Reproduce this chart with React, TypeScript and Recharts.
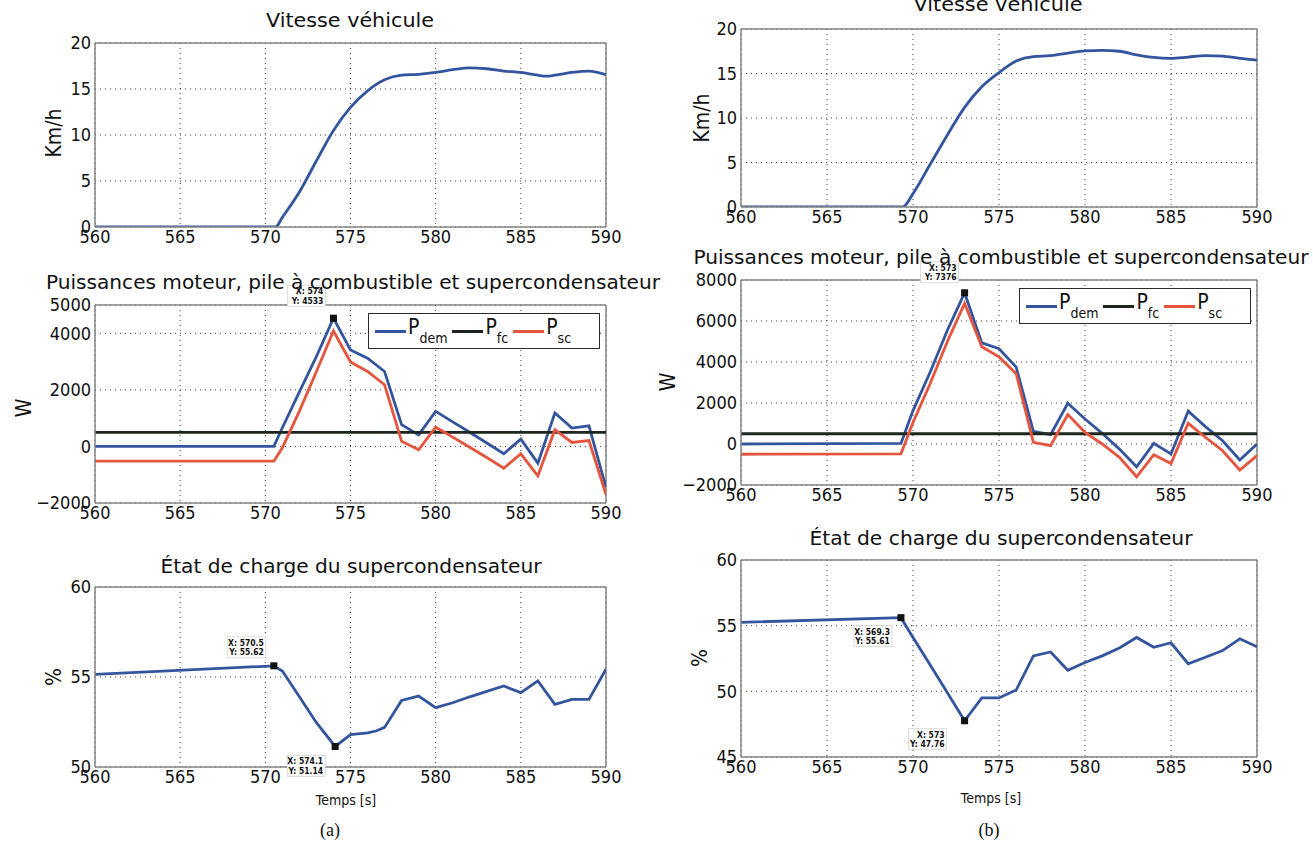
import React from "react";
import {
  CartesianGrid,
  Line,
  LineChart,
  ReferenceDot,
  ReferenceLine,
  XAxis,
  YAxis,
} from "recharts";

const FONT =
  '"DejaVu Sans Condensed", "Liberation Sans Narrow", "DejaVu Sans", sans-serif';
const BLUE = "#34559e";
const RED = "#e5543d";
const BLACK = "#1d261d";
const FRAME = "#858585";

const X_TICKS = [560, 565, 570, 575, 580, 585, 590];

// --- (a) vitesse ---
const A_SPEED_T = [560, 570.6, 571, 572, 573, 574, 575, 576, 577, 578, 579, 580, 581, 582, 583, 584, 585, 586, 586.5, 587, 588, 589, 590];
const A_SPEED = [0, 0, 1.05, 3.8, 7.2, 10.5, 13.0, 14.8, 16.0, 16.5, 16.6, 16.8, 17.1, 17.3, 17.2, 16.95, 16.8, 16.5, 16.4, 16.5, 16.8, 16.95, 16.55];

// --- (a) puissances ---
const A_POW_T = [560, 570.5, 571, 572, 573, 574, 575, 576, 577, 578, 579, 580, 581, 582, 583, 584, 585, 586, 587, 588, 589, 590];
const A_PDEM = [0, 0, 660, 1930, 3180, 4533, 3410, 3120, 2650, 770, 410, 1240, 870, 500, 120, -260, 260, -590, 1180, 650, 730, -1450];
const A_PFC = [500, 500, 500, 500, 500, 500, 500, 500, 500, 500, 500, 500, 500, 500, 500, 500, 500, 500, 500, 500, 500, 500];
const A_PSC = [-520, -520, -50, 1250, 2650, 4080, 2990, 2650, 2180, 180, -120, 680, 330, -30, -390, -770, -260, -1040, 590, 140, 210, -1700];

// --- (a) etat de charge ---
const A_SOC_T = [560, 570.5, 571, 572, 573, 574.1, 575, 576, 576.5, 577, 578, 579, 580, 581, 582, 583, 584, 585, 586, 587, 588, 589, 590];
const A_SOC = [55.15, 55.62, 55.33, 53.9, 52.46, 51.14, 51.8, 51.9, 52.0, 52.2, 53.7, 53.94, 53.3, 53.57, 53.9, 54.2, 54.5, 54.13, 54.78, 53.48, 53.76, 53.76, 55.43];

// --- (b) vitesse ---
const B_SPEED_T = [560, 569.4, 570, 571, 572, 573, 574, 575, 576, 577, 578, 579, 580, 581, 582, 583, 584, 585, 586, 587, 588, 589, 590];
const B_SPEED = [0, 0, 1.5, 4.8, 8.1, 11.2, 13.5, 15.1, 16.4, 16.9, 17.0, 17.3, 17.55, 17.6, 17.5, 17.1, 16.8, 16.7, 16.85, 17.0, 16.95, 16.7, 16.5];

// --- (b) puissances ---
const B_POW_T = [560, 569.3, 570, 571, 572, 573, 574, 575, 576, 577, 578, 579, 580, 581, 582, 583, 584, 585, 586, 587, 588, 589, 590];
const B_PDEM = [0, 30, 1630, 3510, 5550, 7376, 4930, 4650, 3750, 620, 460, 1990, 1220, 520, -250, -1110, 30, -490, 1600, 850, 160, -780, 0];
const B_PFC = [500, 500, 500, 500, 500, 500, 500, 500, 500, 500, 500, 500, 500, 500, 500, 500, 500, 500, 500, 500, 500, 500, 500];
const B_PSC = [-500, -480, 1050, 2950, 5000, 6860, 4740, 4250, 3430, 80, -80, 1440, 570, 0, -650, -1600, -520, -950, 1010, 330, -330, -1270, -570];

// --- (b) etat de charge ---
const B_SOC_T = [560, 569.3, 570, 571, 572, 573, 574, 575, 576, 577, 578, 579, 580, 581, 582, 583, 584, 585, 586, 587, 588, 589, 590];
const B_SOC = [55.25, 55.61, 54.1, 52.0, 49.9, 47.76, 49.5, 49.5, 50.1, 52.7, 53.0, 51.6, 52.2, 52.7, 53.3, 54.1, 53.35, 53.7, 52.1, 52.6, 53.1, 54.0, 53.4];

const SUBS = ["dem", "fc", "sc"];

function toRows(t: number[], cols: Record<string, number[]>) {
  return t.map((x, i) => {
    const row: Record<string, number> = { t: x };
    Object.keys(cols).forEach((k) => {
      row[k] = cols[k][i];
    });
    return row;
  });
}

const YW = 64;
const MT = 40;
const MR = 30;
const XH = 30;

interface Series {
  color: string;
  key: string;
  name: string;
}

interface Tip {
  dx: number;
  dy: number;
  x: number;
  y: number;
}

function tipShape(tip: Tip) {
  return (p: any) => {
    const tx = p.cx + tip.dx;
    const ty = p.cy + tip.dy;
    return (
      <g>
        <rect fill="#fff" height={21} stroke="#c8c8c8" strokeWidth={0.6} width={38} x={tx - 38} y={ty - 9} />
        <rect fill="#111" height={7} width={7} x={p.cx - 3.5} y={p.cy - 3.5} />
        <text fill="#111" fontFamily={FONT} fontSize={8.5} fontWeight="bold" textAnchor="end" x={tx - 2} y={ty}>
          {`X: ${tip.x}`}
        </text>
        <text fill="#111" fontFamily={FONT} fontSize={8.5} fontWeight="bold" textAnchor="end" x={tx - 2} y={ty + 9.5}>
          {`Y: ${tip.y}`}
        </text>
      </g>
    );
  };
}

function Panel({
  curve = "linear",
  data,
  legend,
  plotH,
  plotLeft,
  plotTop,
  plotW,
  series,
  tips = [],
  yDomain,
  yTicks,
}: {
  curve?: "linear" | "monotone";
  data: Record<string, number>[];
  legend?: boolean;
  plotH: number;
  plotLeft: number;
  plotTop: number;
  plotW: number;
  series: Series[];
  tips?: Tip[];
  yDomain: [number, number];
  yTicks: number[];
}) {
  const W = YW + plotW + MR;
  const H = MT + plotH + XH;
  return (
    <div style={{ left: plotLeft - YW, position: "absolute", top: plotTop - MT }}>
      <LineChart data={data} height={H} margin={{ bottom: 0, left: 0, right: MR, top: MT }} width={W}>
        <CartesianGrid stroke="#3a3a3a" strokeDasharray="1 4" />
        <XAxis
          allowDataOverflow
          axisLine={{ stroke: FRAME, strokeWidth: 1.5 }}
          dataKey="t"
          domain={[560, 590]}
          height={XH}
          interval={0}
          tick={{ fill: "#111", fontFamily: FONT, fontSize: 18 }}
          tickLine={false}
          tickMargin={1}
          tickSize={2}
          ticks={X_TICKS}
          type="number"
        />
        <YAxis
          allowDataOverflow
          axisLine={{ stroke: FRAME, strokeWidth: 1.5 }}
          domain={yDomain}
          interval={0}
          tick={{ fill: "#111", fontFamily: FONT, fontSize: 18 }}
          tickFormatter={(v: number) => String(v).replace("-", "\u2212")}
          tickLine={false}
          tickMargin={2}
          tickSize={2}
          ticks={yTicks}
          type="number"
          width={YW}
        />
        <ReferenceLine stroke={FRAME} strokeWidth={1.5} y={yDomain[1]} />
        <ReferenceLine stroke={FRAME} strokeWidth={1.5} x={590} />
        {series.map((s) => (
          <Line
            dataKey={s.key}
            dot={false}
            isAnimationActive={false}
            key={s.key}
            name={s.name}
            stroke={s.color}
            strokeWidth={2.8}
            type={curve}
          />
        ))}
        {tips.map((tip, i) => (
          <ReferenceDot
            ifOverflow="visible"
            key={i}
            r={4}
            shape={tipShape(tip)}
            x={tip.x}
            y={tip.y}
          />
        ))}
      </LineChart>
      {legend && (
        <div
          style={{
            alignItems: "center",
            background: "#fff",
            border: "1.5px solid #2a2a2a",
            boxSizing: "border-box",
            display: "flex",
            fontFamily: FONT,
            height: 36,
            left: YW + plotW - 238,
            padding: "0 0 0 6px",
            position: "absolute",
            top: MT + 8,
            width: 232,
          }}
        >
          {series.map((s, i) => (
            <div key={s.key} style={{ alignItems: "center", display: "flex", marginRight: 5 }}>
              <div style={{ background: s.color, height: 3, width: 31 }} />
              <div style={{ color: "#111", fontSize: 21, lineHeight: "20px", marginLeft: 2, marginTop: -6 }}>
                P
                <span style={{ fontSize: 14, position: "relative", top: 9 }}>{SUBS[i]}</span>
              </div>
            </div>
          ))}
        </div>
      )}
    </div>
  );
}

const A_LEFT = 95;
const A_W = 511;
const B_LEFT = 741;
const B_W = 516;

function Labels() {
  const title = (x: number, y: number, len: number, s: string) => (
    <text fill="#111" fontFamily={FONT} fontSize={20} lengthAdjust="spacingAndGlyphs" textAnchor="middle" textLength={len} x={x} y={y}>
      {s}
    </text>
  );
  const ylab = (x: number, y: number, s: string, size = 21) => (
    <text fill="#111" fontFamily={FONT} fontSize={size} textAnchor="middle" transform={`rotate(-90 ${x} ${y})`} x={x} y={y + 7}>
      {s}
    </text>
  );
  return (
    <svg height={848} style={{ left: 0, pointerEvents: "none", position: "absolute", top: 0 }} width={1313}>
      {title(350, 27, 168, "Vitesse véhicule")}
      {title(353, 289, 614, "Puissances moteur, pile à combustible et supercondensateur")}
      {title(351, 573, 381, "État de charge du supercondensateur")}
      {title(998, 11, 169, "Vitesse véhicule")}
      {title(1001, 264, 615, "Puissances moteur, pile à combustible et supercondensateur")}
      {title(1001, 545, 383, "État de charge du supercondensateur")}
      {ylab(54, 133, "Km/h")}
      {ylab(24, 408, "W")}
      {ylab(54, 677, "%")}
      {ylab(702, 118, "Km/h")}
      {ylab(668, 382, "W")}
      {ylab(700, 658, "%")}
      <text fill="#111" fontFamily={FONT} fontSize={14} textAnchor="middle" x={346} y={805}>
        Temps [s]
      </text>
      <text fill="#111" fontFamily={FONT} fontSize={14} textAnchor="middle" x={991} y={803}>
        Temps [s]
      </text>
      <text fill="#111" fontFamily='"Liberation Serif", serif' fontSize={18} textAnchor="middle" x={330} y={836}>
        (a)
      </text>
      <text fill="#111" fontFamily='"Liberation Serif", serif' fontSize={18} textAnchor="middle" x={989} y={836}>
        (b)
      </text>
    </svg>
  );
}

export default function App() {
  const aSpeed = toRows(A_SPEED_T, { v: A_SPEED });
  const aPow = toRows(A_POW_T, { dem: A_PDEM, fc: A_PFC, sc: A_PSC });
  const aSoc = toRows(A_SOC_T, { soc: A_SOC });
  const bSpeed = toRows(B_SPEED_T, { v: B_SPEED });
  const bPow = toRows(B_POW_T, { dem: B_PDEM, fc: B_PFC, sc: B_PSC });
  const bSoc = toRows(B_SOC_T, { soc: B_SOC });

  const powSeries: Series[] = [
    { color: BLUE, key: "dem", name: "Pdem" },
    { color: BLACK, key: "fc", name: "Pfc" },
    { color: RED, key: "sc", name: "Psc" },
  ];

  return (
    <div style={{ background: "#fff", height: 848, left: 0, overflow: "hidden", position: "absolute", top: 0, width: 1313 }}>
      <Panel curve="monotone" data={aSpeed} plotH={184} plotLeft={A_LEFT} plotTop={43} plotW={A_W} series={[{ color: BLUE, key: "v", name: "v" }]} yDomain={[0, 20]} yTicks={[0, 5, 10, 15, 20]} />
      <Panel
        data={aPow}
        legend
        plotH={198}
        plotLeft={A_LEFT}
        plotTop={305}
        plotW={A_W}
        series={powSeries}
        tips={[{ dx: -8, dy: -24, x: 574, y: 4533 }]}
        yDomain={[-2000, 5000]}
        yTicks={[-2000, 0, 2000, 4000, 5000]}
      />
      <Panel
        data={aSoc}
        plotH={180}
        plotLeft={A_LEFT}
        plotTop={587}
        plotW={A_W}
        series={[{ color: BLUE, key: "soc", name: "soc" }]}
        tips={[
          { dx: -8, dy: -20, x: 570.5, y: 55.62 },
          { dx: -10, dy: 18, x: 574.1, y: 51.14 },
        ]}
        yDomain={[50, 60]}
        yTicks={[50, 55, 60]}
      />
      <Panel curve="monotone" data={bSpeed} plotH={178} plotLeft={B_LEFT} plotTop={29} plotW={B_W} series={[{ color: BLUE, key: "v", name: "v" }]} yDomain={[0, 20]} yTicks={[0, 5, 10, 15, 20]} />
      <Panel
        data={bPow}
        legend
        plotH={205}
        plotLeft={B_LEFT}
        plotTop={280}
        plotW={B_W}
        series={powSeries}
        tips={[{ dx: -6, dy: -22, x: 573, y: 7376 }]}
        yDomain={[-2000, 8000]}
        yTicks={[-2000, 0, 2000, 4000, 6000, 8000]}
      />
      <Panel
        data={bSoc}
        plotH={197}
        plotLeft={B_LEFT}
        plotTop={560}
        plotW={B_W}
        series={[{ color: BLUE, key: "soc", name: "soc" }]}
        tips={[
          { dx: -9, dy: 17, x: 569.3, y: 55.61 },
          { dx: -18, dy: 17, x: 573, y: 47.76 },
        ]}
        yDomain={[45, 60]}
        yTicks={[45, 50, 55, 60]}
      />
      <Labels />
    </div>
  );
}
